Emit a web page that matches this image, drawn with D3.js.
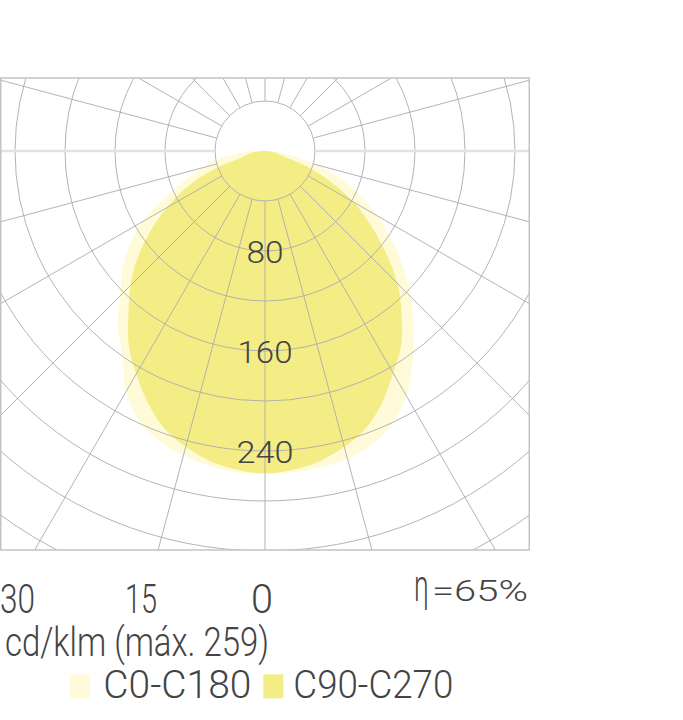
<!DOCTYPE html>
<html>
<head>
<meta charset="utf-8">
<script src="https://cdn.jsdelivr.net/npm/d3@7/dist/d3.min.js"></script>
<style>
  html, body { margin: 0; padding: 0; background: #fff; }
  svg { display: block; }
  text { font-family: Roboto, "Open Sans", "Liberation Sans", sans-serif; font-weight: 300; fill: #444; }
</style>
</head>
<body>
<svg id="chart" width="683" height="720"></svg>
<script>
// ---- data (cd/klm vs gamma angle, 0 = straight down) ----
const gammaAngles = [0, 5, 10, 15, 20, 25, 30, 35, 40, 45, 50, 55, 60, 65, 70, 75, 80, 85, 90];
const c0Values   = [258, 258, 257, 255, 250, 241, 226, 206, 185, 165, 144, 124, 104, 85, 64, 42, 22, 10, 0];
const c180Values = [258, 258, 256, 252, 247, 238, 222, 199, 183, 164, 149, 133, 114, 88, 68, 52, 40, 22, 0];
const c90Values  = [258, 256, 252, 245, 236, 222, 205, 190, 170, 150, 126, 103, 82, 58, 35, 13, 10, 6, 0];
const c270Values = [258, 256, 252, 245, 236, 222, 206, 190, 170, 152, 133, 112, 91, 70, 45, 18, 13, 8, 0];
const ringValues = [40, 80, 120, 160, 200, 240, 280, 320, 360, 400];
const ringLabels = [80, 160, 240];
const spokeAngles = d3.range(0, 360, 15);
const angleTickLabels = ["30", "15", "0"];
const seriesNames = ["C0-C180", "C90-C270"];
const seriesColors = ["#fffbd8", "#f4ed86"];
const maxValue = 259;
const efficiency = "65%";

// ---- layout ----
const svg = d3.select("#chart");
const frame = { x: 0.75, y: 78, w: 528.5, h: 472 };
const cx = 265, cy = 151;
const r = d3.scaleLinear().domain([0, 40]).range([0, 50]);

svg.append("defs").append("clipPath").attr("id", "clip")
  .append("rect").attr("x", frame.x).attr("y", frame.y).attr("width", frame.w).attr("height", frame.h);

const g = svg.append("g").attr("clip-path", "url(#clip)");
const center = g.append("g").attr("transform", `translate(${cx},${cy})`);

const rad = d => d * Math.PI / 180;
function buildPoints(leftVals, rightVals) {
  const pts = [];
  for (let i = gammaAngles.length - 1; i >= 0; i--) pts.push([Math.PI + rad(gammaAngles[i]), r(leftVals[i])]);
  for (let i = 1; i < gammaAngles.length - 1; i++) pts.push([Math.PI - rad(gammaAngles[i]), r(rightVals[i])]);
  return pts;
}
const radial = d3.lineRadial().angle(d => d[0]).radius(d => d[1]).curve(d3.curveCatmullRomClosed.alpha(0.5));

center.append("path").attr("d", radial(buildPoints(c180Values, c0Values))).attr("fill", seriesColors[0]);
center.append("path").attr("d", radial(buildPoints(c270Values, c90Values))).attr("fill", seriesColors[1]);

// grid circles
center.selectAll("circle.ring").data(ringValues).join("circle")
  .attr("class", "ring").attr("r", d => r(d))
  .attr("fill", "none").attr("stroke", "#ababab").attr("stroke-width", 0.9);

// spokes
const rIn = r(ringValues[0]), rOut = 700;
center.selectAll("line.spoke").data(spokeAngles.filter(a => a % 180 !== 90)).join("line")
  .attr("class", "spoke")
  .attr("x1", a => rIn * Math.sin(rad(a))).attr("y1", a => rIn * Math.cos(rad(a)))
  .attr("x2", a => rOut * Math.sin(rad(a))).attr("y2", a => rOut * Math.cos(rad(a)))
  .attr("stroke", "#ababab").attr("stroke-width", 0.9);
// horizontal (90°) line, lighter and thicker
[-1, 1].forEach(s => {
  center.append("line")
    .attr("x1", s * rIn).attr("y1", 0).attr("x2", s * rOut).attr("y2", 0)
    .attr("stroke", "#e2e2e2").attr("stroke-width", 2.5);
});

// frame
svg.append("rect").attr("x", frame.x).attr("y", frame.y).attr("width", frame.w).attr("height", frame.h)
  .attr("fill", "none").attr("stroke", "#c2c4c4").attr("stroke-width", 1.5);

// ring labels
const labelWidths = { 80: 37, 160: 55, 240: 57 };
svg.selectAll("text.ringlab").data(ringLabels).join("text")
  .attr("class", "ringlab")
  .attr("x", cx).attr("y", d => cy + r(d) + 12)
  .attr("text-anchor", "middle").attr("font-size", 32)
  .attr("textLength", d => labelWidths[d]).attr("lengthAdjust", "spacingAndGlyphs")
  .text(d => d);

// angle tick labels (bottom)
const tickX = [17.5, 141, 262];
const tickW = [35, 32, 22];
svg.selectAll("text.tick").data(angleTickLabels).join("text")
  .attr("class", "tick")
  .attr("x", (d, i) => tickX[i] - tickW[i] / 2).attr("y", 613)
  .attr("font-size", 41)
  .attr("textLength", (d, i) => tickW[i]).attr("lengthAdjust", "spacingAndGlyphs")
  .text(d => d);

// units
svg.append("text").attr("x", 5).attr("y", 656).attr("font-size", 40)
  .attr("textLength", 264).attr("lengthAdjust", "spacingAndGlyphs")
  .text(`cd/klm (máx. ${maxValue})`);

// efficiency
svg.append("text").attr("transform", "translate(414,601) scale(0.6,1)").attr("font-size", 44).text("η");
svg.append("text").attr("x", 432).attr("y", 601).attr("font-size", 29.5)
  .attr("textLength", 96).attr("lengthAdjust", "spacingAndGlyphs").text("=" + efficiency);

// legend
const legX = [70, 263.3];
const legTextX = [103.3, 293.3];
const legTextW = [148, 160];
seriesNames.forEach((name, i) => {
  svg.append("rect").attr("x", legX[i]).attr("y", 674.3).attr("width", 20).attr("height", 24)
    .attr("fill", seriesColors[i]);
  svg.append("text").attr("x", legTextX[i]).attr("y", 698.3).attr("font-size", 38)
    .attr("textLength", legTextW[i]).attr("lengthAdjust", "spacingAndGlyphs")
    .text(name);
});
</script>
</body>
</html>
